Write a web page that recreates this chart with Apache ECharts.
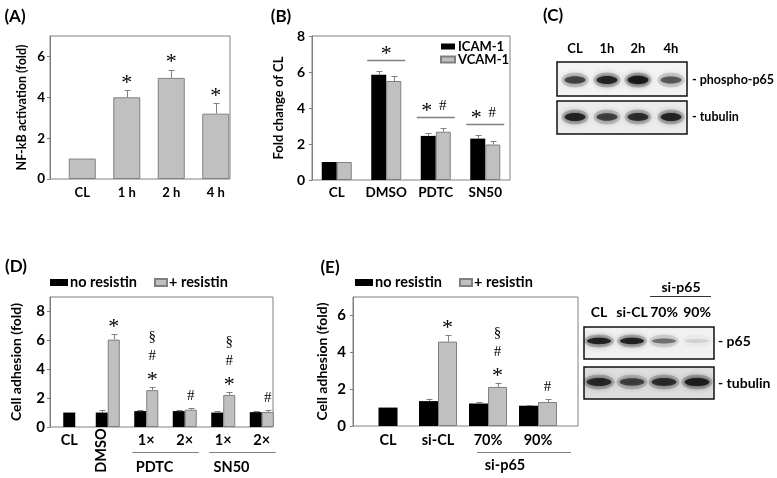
<!DOCTYPE html>
<html><head><meta charset="utf-8">
<script src="https://cdn.jsdelivr.net/npm/echarts@6/dist/echarts.min.js"></script>
<style>html,body{margin:0;padding:0;background:#fff}#c{width:777px;height:478px}</style>
</head><body><div id="c"></div>
<script>
// ---------------- data ----------------
const catA = ['CL', '1 h', '2 h', '4 h'];
const valA = [1.0, 4.0, 4.95, 3.2];
const errA = [0, 0.35, 0.4, 0.5];
const sigA = ['', '*', '*', '*'];
const ticksA = [0, 2, 4, 6];

const catB = ['CL', 'DMSO', 'PDTC', 'SN50'];
const icamB = [1.0, 5.85, 2.45, 2.3];
const icamErrB = [0, 0.2, 0.17, 0.22];
const vcamB = [1.0, 5.5, 2.68, 1.97];
const vcamErrB = [0, 0.3, 0.22, 0.17];
const sigB = ['', '*', '* #', '* #'];
const ticksB = [0, 2, 4, 6, 8];

const catD = ['CL', 'DMSO', '1×', '2×', '1×', '2×'];
const noResD = [1.0, 1.0, 1.1, 1.1, 1.0, 1.03];
const noResErrD = [0, 0.15, 0.07, 0.1, 0.08, 0.05];
const resD = [null, 6.05, 2.55, 1.2, 2.22, 1.04];
const resErrD = [0, 0.4, 0.22, 0.14, 0.22, 0.12];
const sigD = ['', '*', '*#§', '#', '*#§', '#'];
const groupsD = [['PDTC', 2, 3], ['SN50', 4, 5]];
const ticksD = [0, 2, 4, 6, 8];

const catE = ['CL', 'si-CL', '70%', '90%'];
const noResE = [1.0, 1.35, 1.22, 1.1];
const noResErrE = [0, 0.12, 0.1, 0.05];
const resE = [null, 4.58, 2.12, 1.3];
const resErrE = [0, 0.37, 0.22, 0.16];
const sigE = ['', '*', '*#§', '#'];
const groupsE = [['si-p65', 2, 3]];
const ticksE = [0, 2, 4, 6];

const lanesC = ['CL', '1h', '2h', '4h'];
const bandsC1 = [0.7, 0.88, 0.95, 0.6];
const bandsC2 = [0.88, 0.72, 0.82, 0.88];
const lanesE = ['CL', 'si-CL', '70%', '90%'];
const bandsE1 = [0.9, 0.9, 0.5, 0.12];
const bandsE2 = [0.85, 0.7, 0.82, 0.92];

// ---------------- styles ----------------
const F = 'Lato, "Open Sans", sans-serif';
const EDGE = '#808080';
const GRAY = '#c0c0c0';
const SERIF = '"Liberation Serif", "DejaVu Serif", serif';
const STAR_FONT = '22px ' + SERIF;
const SYM_FONT = '15px ' + SERIF;
const STAR_DY = 5;
const grayStyle = {color: GRAY, borderColor: EDGE, borderWidth: 1};
const blackStyle = {color: '#000'};

function boxGrid(l, t, w, h) {
  return {left: l, top: t, width: w, height: h, show: true, borderColor: EDGE, borderWidth: 1,
    backgroundColor: 'transparent', containLabel: false, outerBoundsMode: 'none'};
}
function dataGrid(l, t, w, h) {
  return {left: l, top: t, width: w, height: h, show: false, containLabel: false, outerBoundsMode: 'none'};
}
function yShown(gi, max, ticks, name, nameGap, fs, margin) {
  return {gridIndex: gi, type: 'value', min: 0, max: max, interval: 2,
    name: name, nameLocation: 'middle', nameGap: nameGap,
    nameTextStyle: {fontFamily: F, fontWeight: 'bold', fontSize: fs, color: '#000'},
    axisLine: {show: true, lineStyle: {color: EDGE}},
    axisTick: {show: true, length: 3, customValues: ticks, lineStyle: {color: EDGE}},
    axisLabel: {customValues: ticks, fontFamily: F, fontWeight: 'bold', fontSize: fs + 1, color: '#000', margin: margin},
    splitLine: {show: false}};
}
function yHidden(gi, max) {
  return {gridIndex: gi, type: 'value', min: 0, max: max, show: false, splitLine: {show: false}};
}
function xHiddenVal(gi) {
  return {gridIndex: gi, type: 'value', min: 0, max: 1, show: false, splitLine: {show: false}};
}
function xCat(gi, cats, fs, margin, show, formatter) {
  return {gridIndex: gi, type: 'category', data: cats, show: show,
    axisLine: {show: false}, axisTick: {show: false},
    axisLabel: {fontFamily: F, fontWeight: 'bold', fontSize: fs, color: '#000', margin: margin, interval: 0,
      formatter: formatter || (v => v)}};
}
function errBars(xi, yi, vals, errs, dx) {
  const data = [];
  vals.forEach((v, i) => { if (v != null && errs[i] > 0) data.push([i, v, v + errs[i]]); });
  return {type: 'custom', xAxisIndex: xi, yAxisIndex: yi, silent: true, clip: false, z: 3,
    encode: {x: 0, y: [1, 2]}, data: data,
    renderItem(params, api) {
      const a = api.coord([api.value(0), api.value(1)]);
      const b = api.coord([api.value(0), api.value(2)]);
      const x = Math.round(a[0] + dx) + 0.5;
      const yb = Math.round(b[1]) + 0.5;
      return {type: 'group', children: [
        {type: 'line', shape: {x1: x, y1: a[1], x2: x, y2: yb}, style: {stroke: EDGE, lineWidth: 1}},
        {type: 'line', shape: {x1: x - 3, y1: yb, x2: x + 3, y2: yb}, style: {stroke: EDGE, lineWidth: 1}}
      ]};
    }};
}
function symText(s, x, y) {
  const star = s === '*';
  return {type: 'text', x: x, y: y + (star ? STAR_DY : 0),
    style: {text: s, fill: '#000', font: star ? STAR_FONT : SYM_FONT, textAlign: 'center', textVerticalAlign: 'middle'}};
}
function sigStack(xi, yi, vals, errs, sigs, dx) {
  const data = [];
  vals.forEach((v, i) => { if (v != null && sigs[i]) data.push([i, v + (errs[i] || 0)]); });
  return {type: 'custom', xAxisIndex: xi, yAxisIndex: yi, silent: true, clip: false, z: 5,
    encode: {x: 0, y: 1}, data: data,
    renderItem(params, api) {
      const i = api.value(0);
      const p = api.coord([i, api.value(1)]);
      const syms = Array.from(sigs[i]);
      return {type: 'group', children: syms.map((s, k) => symText(s, p[0] + dx, p[1] - 12 - 19 * k))};
    }};
}
function groupSig(xi, yi, a, ae, b, be, sigs, half) {
  const data = [];
  a.forEach((v, i) => { if (sigs[i]) data.push([i, Math.max(v + ae[i], b[i] + be[i])]); });
  return {type: 'custom', xAxisIndex: xi, yAxisIndex: yi, silent: true, clip: false, z: 5,
    encode: {x: 0, y: 1}, data: data,
    renderItem(params, api) {
      const i = api.value(0);
      const p = api.coord([i, api.value(1)]);
      const ly = Math.round(p[1] - 11) + 0.5;
      const parts = sigs[i].split(' ');
      const ch = [{type: 'line', shape: {x1: p[0] - half, y1: ly, x2: p[0] + half, y2: ly}, style: {stroke: EDGE, lineWidth: 1.5}}];
      parts.forEach((s, k) => {
        const dx = parts.length === 1 ? 0 : (k === 0 ? -9 : 7);
        ch.push(symText(s, p[0] + dx, ly - 11));
      });
      return {type: 'group', children: ch};
    }};
}
function groupBelow(xi, yi, groups, padL, padR, lineDy, textDy, textDx, fs) {
  return {type: 'custom', xAxisIndex: xi, yAxisIndex: yi, silent: true, clip: false, z: 5,
    encode: {x: [0, 2], y: 1}, data: groups.map(g => [g[1], 0, g[2]]),
    renderItem(params, api) {
      const a = api.coord([api.value(0), 0]);
      const b = api.coord([api.value(2), 0]);
      const x1 = a[0] - padL, x2 = b[0] + padR;
      const y = Math.round(a[1] + lineDy) + 0.5;
      return {type: 'group', children: [
        {type: 'line', shape: {x1: x1, y1: y, x2: x2, y2: y}, style: {stroke: EDGE, lineWidth: 1}},
        {type: 'text', x: (x1 + x2) / 2 + textDx, y: y + textDy,
          style: {text: groups[params.dataIndex][0], fill: '#000', font: 'bold ' + fs + 'px ' + F, textAlign: 'center', textVerticalAlign: 'middle'}}
      ]};
    }};
}
function rotLabel(xi, yi, idx, text, dx, dy, fs) {
  return {type: 'custom', xAxisIndex: xi, yAxisIndex: yi, silent: true, clip: false, z: 5,
    encode: {x: 0, y: 1}, data: [[idx, 0]],
    renderItem(params, api) {
      const p = api.coord([api.value(0), 0]);
      return {type: 'text', x: p[0] + dx, y: p[1] + dy, rotation: Math.PI / 2,
        style: {text: text, fill: '#000', font: 'bold ' + fs + 'px ' + F, textAlign: 'center', textVerticalAlign: 'middle'}};
    }};
}

// ---------------- blots (graphic) ----------------
function txt(x, y, s, fs, align) {
  return {type: 'text', x: x, y: y, silent: true,
    style: {text: s, fill: '#000', font: 'bold ' + fs + 'px ' + F, textAlign: align || 'center', textVerticalAlign: 'middle'}};
}
function blotRow(bx, by, bw, bh, bg, lanesX, bandY, ints, bw2, bh2) {
  const els = [{type: 'rect', silent: true, shape: {x: bx, y: by, width: bw, height: bh}, style: {fill: bg}}];
  lanesX.forEach((x, i) => {
    const a = ints[i];
    els.push({type: 'ellipse', silent: true, shape: {cx: x, cy: bandY, rx: bw2 / 2 + 2, ry: bh2 / 2 + 3},
      style: {fill: 'rgba(0,0,0,' + (a * 0.22).toFixed(3) + ')', shadowBlur: 9, shadowColor: 'rgba(0,0,0,' + (a * 0.35).toFixed(3) + ')'}});
    els.push({type: 'ellipse', silent: true, shape: {cx: x, cy: bandY, rx: bw2 / 2 - 1, ry: bh2 / 2 * (0.5 + 0.45 * a)},
      style: {fill: 'rgba(15,15,15,' + (a * 0.92).toFixed(3) + ')', shadowBlur: 6, shadowColor: 'rgba(0,0,0,' + (a * 0.8).toFixed(3) + ')'}});
  });
  els.push({type: 'rect', silent: true, shape: {x: bx, y: by, width: bw, height: bh}, style: {fill: 'none', stroke: '#111', lineWidth: 1.5}});
  return els;
}
const lanesXC = [575, 607, 638, 671];
const lanesXE = [599, 632, 664, 697];
const graphics = [].concat(
  [txt(15, 16.5, '(A)', 17), txt(281, 17, '(B)', 17), txt(553, 15.5, '(C)', 17),
   txt(16, 266.5, '(D)', 17), txt(330, 268, '(E)', 17)],
  lanesC.map((s, i) => txt(lanesXC[i], 49, s, 13)),
  blotRow(557, 62, 130, 34, '#f3f3f3', lanesXC, 80, bandsC1, 23, 9),
  blotRow(557, 101, 130, 33, '#ececec', lanesXC, 117, bandsC2, 23, 9),
  [txt(692, 80, '- phospho-p65', 12.5, 'left'), txt(692, 117, '- tubulin', 12.5, 'left')],
  [txt(681, 287, 'si-p65', 14), {type: 'line', silent: true, shape: {x1: 650, y1: 296.5, x2: 711, y2: 296.5}, style: {stroke: '#333', lineWidth: 1}}],
  lanesE.map((s, i) => txt(lanesXE[i], 312, s, 14)),
  blotRow(584, 327, 130, 32, '#f1f1f1', lanesXE, 341, bandsE1, 26, 7),
  blotRow(584, 367, 130, 32, '#dedede', lanesXE, 382, bandsE2, 27, 9),
  [txt(718, 341, '- p65', 14, 'left'), txt(718, 383, '- tubulin', 14, 'left')]
);

// ---------------- option ----------------
const option = {
  animation: false,
  backgroundColor: '#fff',
  grid: [
    boxGrid(50, 36, 180, 143),     // 0 A box
    dataGrid(60, 36, 178, 143),    // 1 A data
    boxGrid(312, 36, 198, 144),    // 2 B
    boxGrid(50, 297, 223, 130),    // 3 D box
    dataGrid(50, 297, 231, 130),   // 4 D data
    boxGrid(353, 297, 225, 129),   // 5 E box
    dataGrid(363, 297, 200, 129)   // 6 E data
  ],
  xAxis: [
    xHiddenVal(0),
    xCat(1, catA, 13, 7, true),
    xCat(2, catB, 13.5, 6, true),
    xHiddenVal(3),
    xCat(4, catD, 14.5, 6, true, (v, i) => i === 1 ? '' : v),
    xCat(4, catD, 14, 6, false),
    xHiddenVal(5),
    xCat(6, catE, 14.5, 7, true),
    xCat(6, catE, 14, 7, false)
  ],
  yAxis: [
    yShown(0, 7, ticksA, 'NF-kB activation (fold)', 22, 12.5, 5),
    yShown(2, 8, ticksB, 'Fold change of CL', 27, 13, 7),
    yShown(3, 9, ticksD, 'Cell adhesion (fold)', 27, 14, 5),
    yShown(5, 7, ticksE, 'Cell adhesion (fold)', 24, 14, 7),
    yHidden(1, 7),
    yHidden(4, 9),
    yHidden(6, 7)
  ],
  legend: [
    {data: ['ICAM-1', 'VCAM-1'], orient: 'vertical', left: 440, top: 40, itemWidth: 14, itemHeight: 6, itemGap: 0,
      icon: 'rect', selectedMode: false, padding: 0, textStyle: {fontFamily: F, fontWeight: 'bold', fontSize: 13, color: '#000', padding: [0, 0, 0, -2]}},
    {data: ['no resistin'], left: 50, top: 275, itemWidth: 18, itemHeight: 7, icon: 'rect', selectedMode: false, padding: 0,
      textStyle: {fontFamily: F, fontWeight: 'bold', fontSize: 14.5, color: '#000', padding: [0, 0, 0, -3]}},
    {data: ['+ resistin'], left: 154, top: 275, itemWidth: 12, itemHeight: 7, icon: 'rect', selectedMode: false, padding: 0,
      textStyle: {fontFamily: F, fontWeight: 'bold', fontSize: 14.5, color: '#000', padding: [0, 0, 0, -3]}},
    {data: ['no resistin'], left: 355, top: 275, itemWidth: 18, itemHeight: 7, icon: 'rect', selectedMode: false, padding: 0,
      textStyle: {fontFamily: F, fontWeight: 'bold', fontSize: 14.5, color: '#000', padding: [0, 0, 0, -3]}},
    {data: ['+ resistin'], left: 459, top: 275, itemWidth: 12, itemHeight: 7, icon: 'rect', selectedMode: false, padding: 0,
      textStyle: {fontFamily: F, fontWeight: 'bold', fontSize: 14.5, color: '#000', padding: [0, 0, 0, -3]}}
  ],
  series: [
    // A
    {type: 'bar', name: 'A', xAxisIndex: 1, yAxisIndex: 4, data: valA, barWidth: 27, itemStyle: grayStyle, silent: true},
    errBars(1, 4, valA, errA, 0),
    sigStack(1, 4, valA, errA, sigA, 0),
    // B
    {type: 'bar', name: 'ICAM-1', xAxisIndex: 2, yAxisIndex: 1, data: icamB, barWidth: 15, barGap: 0, itemStyle: blackStyle, silent: true},
    {type: 'bar', name: 'VCAM-1', xAxisIndex: 2, yAxisIndex: 1, data: vcamB, barWidth: 15, barGap: 0, itemStyle: grayStyle, silent: true},
    errBars(2, 1, icamB, icamErrB, -7.5),
    errBars(2, 1, vcamB, vcamErrB, 7.5),
    groupSig(2, 1, icamB, icamErrB, vcamB, vcamErrB, sigB, 19),
    // D
    {type: 'bar', name: 'CL-D', xAxisIndex: 5, yAxisIndex: 5, data: noResD.map((v, i) => i === 0 ? v : null), barWidth: 12, itemStyle: blackStyle, silent: true},
    {type: 'bar', name: 'no resistin', xAxisIndex: 4, yAxisIndex: 5, data: noResD.map((v, i) => i === 0 ? null : v), barWidth: 12, barGap: 0, itemStyle: blackStyle, silent: true},
    {type: 'bar', name: '+ resistin', xAxisIndex: 4, yAxisIndex: 5, data: resD, barWidth: 12, barGap: 0, itemStyle: grayStyle, silent: true},
    errBars(4, 5, noResD.map((v, i) => i === 0 ? null : v), noResErrD, -6),
    errBars(4, 5, resD, resErrD, 6),
    sigStack(4, 5, resD, resErrD, sigD, 6),
    groupBelow(4, 5, groupsD, 14, 14, 25, 15, -11, 14.5),
    rotLabel(4, 5, 1, 'DMSO', -6, 23.5, 14.5),
    // E
    {type: 'bar', name: 'CL-E', xAxisIndex: 8, yAxisIndex: 6, data: noResE.map((v, i) => i === 0 ? v : null), barWidth: 19, itemStyle: blackStyle, silent: true},
    {type: 'bar', name: 'no resistin', xAxisIndex: 7, yAxisIndex: 6, data: noResE.map((v, i) => i === 0 ? null : v), barWidth: 19, barGap: 0, itemStyle: blackStyle, silent: true},
    {type: 'bar', name: '+ resistin', xAxisIndex: 7, yAxisIndex: 6, data: resE, barWidth: 19, barGap: 0, itemStyle: grayStyle, silent: true},
    errBars(7, 6, noResE.map((v, i) => i === 0 ? null : v), noResErrE, -9.5),
    errBars(7, 6, resE, resErrE, 9.5),
    sigStack(7, 6, resE, resErrE, sigE, 9.5),
    groupBelow(7, 6, groupsE, 11, 33, 26, 13, -19, 14.5)
  ],
  graphic: graphics
};
const chart = echarts.init(document.getElementById('c'), null, {renderer: 'canvas'});
chart.setOption(option);
</script></body></html>
